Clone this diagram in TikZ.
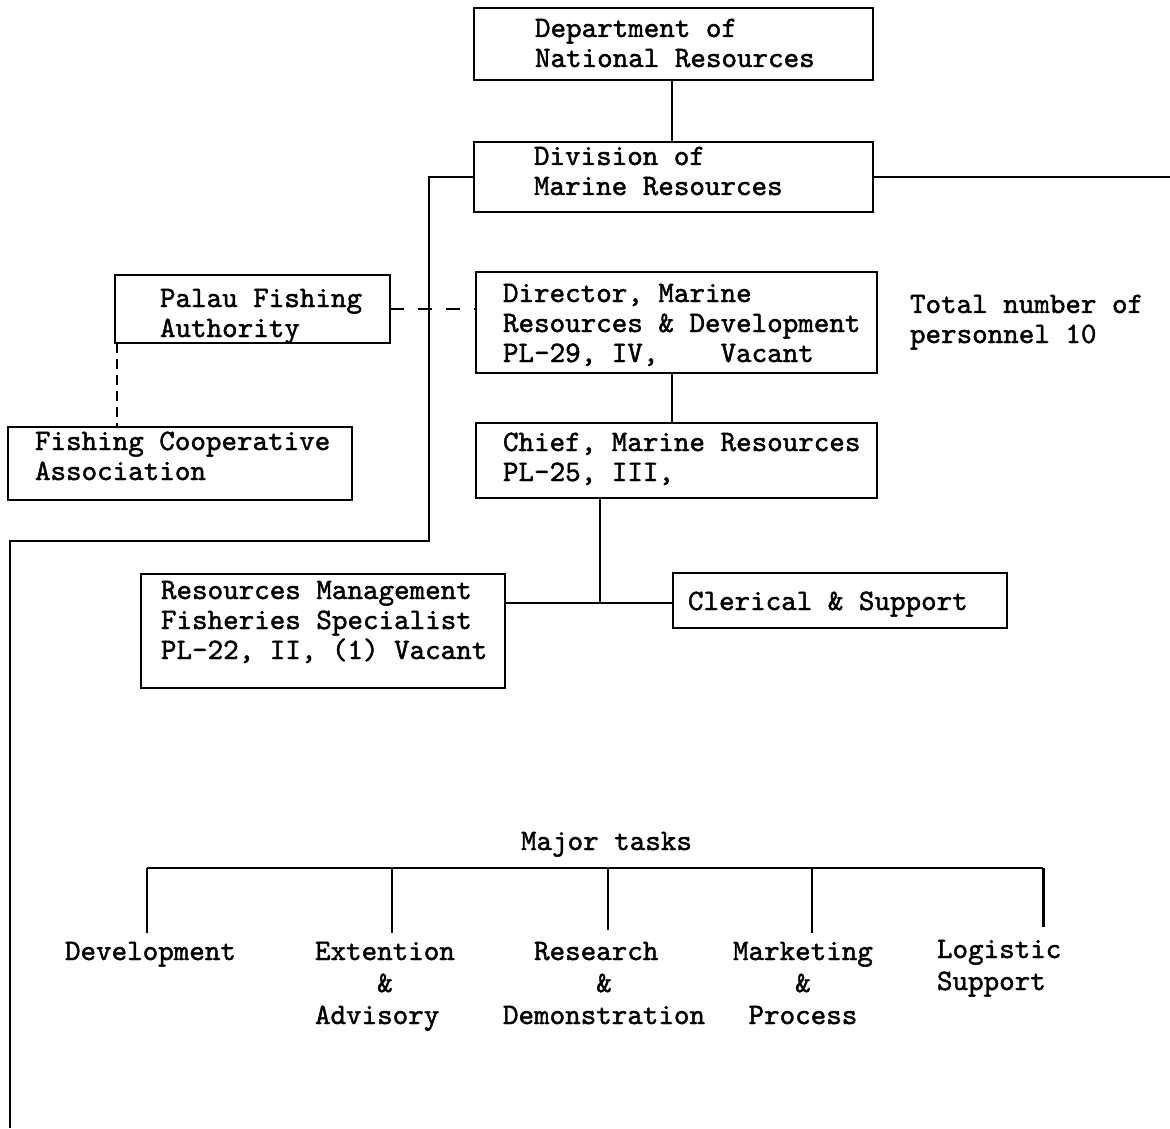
\documentclass[tikz,border=0pt]{standalone}
\usepackage{fontspec}
\newfontfamily\tw{lmmono10-regular.otf}[FakeBold=1.5]
\begin{document}
\begin{tikzpicture}[x=0.5pt,y=-0.5pt,
  font=\tw\fontsize{14.8pt}{15pt}\selectfont,
  box/.style={draw, line width=1.2pt, inner sep=0pt, outer sep=0pt, anchor=north west},
  txt/.style={inner sep=0pt, outer sep=0pt, align=left, anchor=base west},
  tasktxt/.style={txt, font=\tw\fontsize{14.8pt}{16pt}\selectfont},
  thin/.style={line width=0.8pt},
  thick/.style={line width=1.3pt},
  dashA/.style={line width=1pt, dash pattern=on 7pt off 7pt},
  dashB/.style={line width=1.2pt, dash pattern=on 5pt off 3pt}]
\useasboundingbox[fill=white] (0,0) rectangle (1170,1128);

% boxes
\node[box, minimum width=199.5pt, minimum height=36pt] (dept) at (474,8) {};
\node[box, minimum width=199.5pt, minimum height=35pt] (div) at (474,142) {};
\node[box, minimum width=200.5pt, minimum height=50.5pt] (dir) at (476,272) {};
\node[box, minimum width=200.5pt, minimum height=37.5pt] (chief) at (476,423) {};
\node[box, minimum width=137.5pt, minimum height=34pt] (palau) at (115,275) {};
\node[box, minimum width=172pt, minimum height=36.5pt] (fca) at (8,427) {};
\node[box, minimum width=182pt, minimum height=57pt] (rm) at (141,574) {};
\node[box, minimum width=167pt, minimum height=27.5pt] (cler) at (673,573) {};

% texts (anchor = baseline of the last line)
\node[txt] (dept-t) at (535,67) {Department of\\National Resources};
\node[txt] (div-t) at (534,195) {Division of\\Marine Resources};
\node[txt] (dir-t) at (503,362) {Director, Marine\\Resources \& Development\\PL-29, IV,~~~~Vacant};
\node[txt] (chief-t) at (503,481) {Chief, Marine Resources\\PL-25, III,};
\node[txt] (palau-t) at (160,337) {Palau Fishing\\Authority};
\node[txt] (fca-t) at (35,480) {Fishing Cooperative\\Association};
\node[txt] (rm-t) at (161,659) {Resources Management\\Fisheries Specialist\\PL-22, II, (1) Vacant};
\node[txt] (cler-t) at (688,610) {Clerical \& Support};
\node[txt] (total) at (910,343) {Total number of\\personnel 10};
\node[txt] (major) at (521,850) {Major tasks};

\node[tasktxt] (dev) at (65,960) {Development};
\node[tasktxt] (ext) at (315,1024) {Extention\\\phantom{Exte}\&\\Advisory};
\node[tasktxt] (res) at (503,1024) {\phantom{Re}Research\\\phantom{Demons}\&\\Demonstration};
\node[tasktxt] (mkt) at (733,1024) {Marketing\\\phantom{Mark}\&\\\phantom{M}Process};
\node[tasktxt] (log) at (937,990) {Logistic\\Support};

% helper coordinates
\coordinate (dx) at (672,0);
\coordinate (lcorner) at (429,541);
\coordinate (lbottom) at (10,1128);
\coordinate (rend) at (1170,0);
\coordinate (jn) at (600,603);
\coordinate (fx) at (117,0);
\coordinate (bar) at (0,868);
\coordinate (t1) at (147,933);
\coordinate (t2) at (392,933);
\coordinate (t3) at (608,930);
\coordinate (t4) at (812,933);
\coordinate (t5) at (1043,927);

% connectors
\draw[thick] (dept.south -| dx) -- (div.north -| dx);
\draw[thin] (div.west) -| (lcorner) -| (lbottom);
\draw[thin] (div.east) -- (div.east -| rend);
\draw[dashA] (palau.east) -- (palau.east -| dir.west);
\draw[dashB] (palau.south -| fx) -- (fca.north -| fx);
\draw[thick] (dir.south -| dx) -- (chief.north -| dx);
\draw[thick] (chief.south -| jn) -- (jn);
\draw[thin] (rm.east |- jn) -- (cler.west |- jn);

\draw[thin] (t1 |- bar) -- (t5 |- bar);
\draw[thin] (t1 |- bar) -- (t1);
\draw[thin] (t2 |- bar) -- (t2);
\draw[thin] (t3 |- bar) -- (t3);
\draw[thin] (t4 |- bar) -- (t4);
\draw[line width=1.5pt] (t5 |- bar) -- (t5);
\end{tikzpicture}
\end{document}
